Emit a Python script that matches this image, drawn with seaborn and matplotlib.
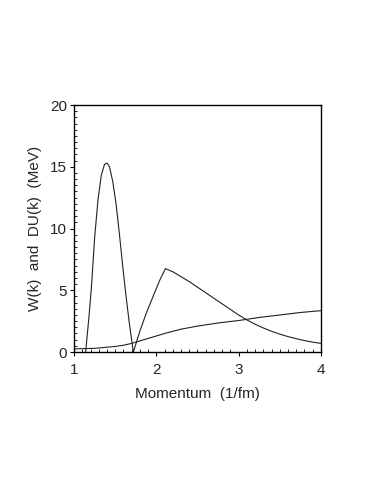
import numpy as np
import pandas as pd
import matplotlib
matplotlib.use("Agg")
import matplotlib.pyplot as plt
from matplotlib.ticker import MultipleLocator
import seaborn as sns

# W(k) curve
w_k = [1.14, 1.18, 1.21, 1.25, 1.29, 1.33, 1.37, 1.40, 1.43, 1.47, 1.51, 1.55,
       1.59, 1.63, 1.67, 1.72, 1.80, 1.88, 1.96, 2.04, 2.11, 2.20, 2.30, 2.40,
       2.50, 2.60, 2.70, 2.80, 2.90, 3.00, 3.10, 3.20, 3.30, 3.40, 3.50, 3.60,
       3.70, 3.80, 3.90, 4.00]
w_val = [0.0, 2.8, 5.2, 9.3, 12.3, 14.3, 15.2, 15.3, 15.0, 13.8, 12.0, 9.6,
         7.0, 4.6, 2.4, 0.0, 1.7, 3.2, 4.5, 5.8, 6.75, 6.5, 6.1, 5.7,
         5.25, 4.8, 4.35, 3.9, 3.45, 3.0, 2.6, 2.25, 1.95, 1.68, 1.45, 1.25,
         1.08, 0.93, 0.8, 0.7]

# DU(k) curve
du_k = [1.0, 1.25, 1.5, 1.6, 1.7, 1.8, 1.9, 2.0, 2.1, 2.2, 2.3, 2.5, 2.75,
        3.0, 3.25, 3.5, 3.75, 4.0]
du_val = [0.25, 0.3, 0.45, 0.55, 0.7, 0.9, 1.1, 1.3, 1.5, 1.68, 1.85, 2.1,
          2.35, 2.55, 2.8, 3.0, 3.2, 3.35]

sns.set_style("white")
plt.rcParams['font.family'] = ['Liberation Sans', 'DejaVu Sans']

fig = plt.figure(figsize=(3.82, 4.94), dpi=100)
ax = fig.add_axes([0.194, 0.2874, 0.646, 0.5])

sns.lineplot(x=w_k, y=w_val, ax=ax, color='#222222', linewidth=0.8,
             estimator=None, sort=False)
sns.lineplot(x=du_k, y=du_val, ax=ax, color='#222222', linewidth=0.8,
             estimator=None, sort=False)

ax.set_xlim(1, 4)
ax.set_ylim(0, 20)
ax.xaxis.set_major_locator(MultipleLocator(1))
ax.xaxis.set_minor_locator(MultipleLocator(0.1))
ax.yaxis.set_major_locator(MultipleLocator(5))
ax.yaxis.set_minor_locator(MultipleLocator(0.5))
ax.tick_params(which='major', direction='out', length=3, width=0.8,
               labelsize=11, color='black')
ax.tick_params(axis='x', which='major', pad=5)
ax.tick_params(axis='y', which='major', pad=2)
ax.tick_params(which='minor', direction='in', length=2, width=0.6,
               color='black')
ax.tick_params(bottom=True, left=True, top=False, right=False, which='both')
for s in ax.spines.values():
    s.set_color('black')
    s.set_linewidth(1.0)

ax.set_xlabel("Momentum  (1/fm)", fontsize=11, labelpad=7)
ax.set_ylabel("W(k)  and  DU(k)  (MeV)", fontsize=11, labelpad=6)

fig.savefig("out.png", dpi=100)
